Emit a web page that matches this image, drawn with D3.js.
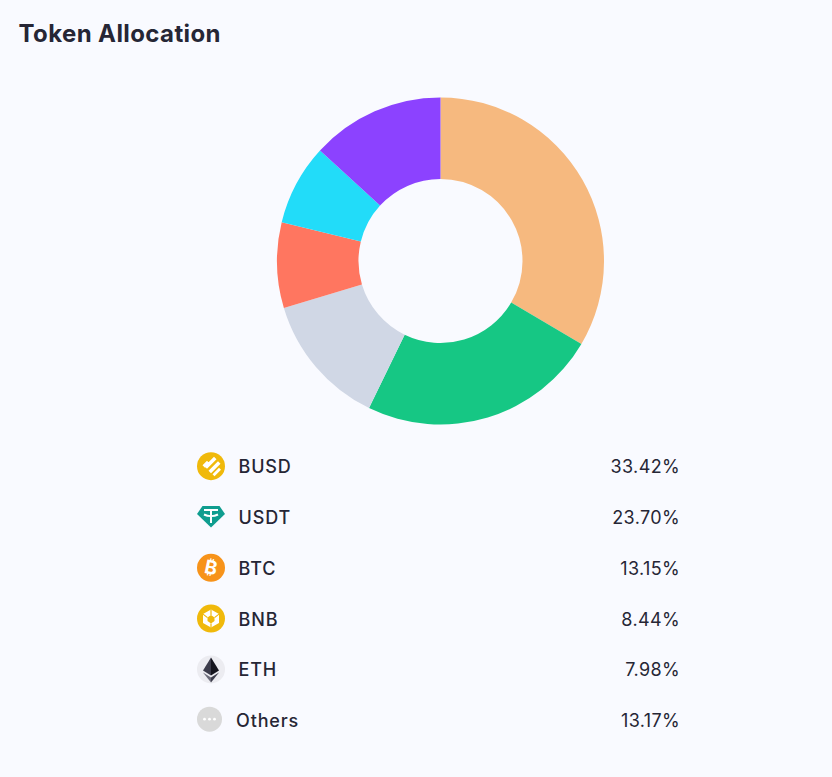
<!DOCTYPE html>
<html>
<head>
<meta charset="utf-8">
<script src="https://cdn.jsdelivr.net/npm/d3@7"></script>
<style>
  html, body { margin: 0; padding: 0; background: #f9faff; }
  text { font-family: Inter, sans-serif; fill: #262635; }
</style>
</head>
<body>
<svg id="chart" width="832" height="777"></svg>
<script>
const title = 'Token Allocation';
const tokens = ['BUSD', 'USDT', 'BTC', 'BNB', 'ETH', 'Others'];
const shares = [33.42, 23.70, 13.15, 8.44, 7.98, 13.17];
const sliceColors = ['#f6b97f', '#16c784', '#d0d7e5', '#ff7660', '#22dcf9', '#8c42ff'];

const svg = d3.select('#chart');

svg.append('text')
  .attr('x', 18.5).attr('y', 42)
  .attr('font-size', 24).attr('font-weight', 700)
  .attr('letter-spacing', 0.4)
  .text(title);

// donut
const pie = d3.pie().sort(null).value(d => d);
const arc = d3.arc().innerRadius(82).outerRadius(163.5);

svg.append('g')
  .attr('transform', 'translate(440.5,261)')
  .selectAll('path')
  .data(pie(shares))
  .join('path')
  .attr('d', arc)
  .attr('fill', (d, i) => sliceColors[i]);

// legend rows
const rowY = d3.scalePoint().domain(tokens).range([466.2, 720.2]);

const row = svg.selectAll('g.row')
  .data(tokens)
  .join('g')
  .attr('class', 'row')
  .attr('transform', d => `translate(0,${rowY(d)})`);

row.append('text')
  .attr('x', d => d === 'Others' ? 236 : 238.5)
  .attr('y', 7)
  .attr('font-size', 18).attr('font-weight', 500)
  .attr('letter-spacing', 0.85)
  .text(d => d);

row.append('text')
  .attr('x', 680.2).attr('y', 7)
  .attr('text-anchor', 'end')
  .attr('font-size', 18)
  .attr('letter-spacing', 0.4)
  .text((d, i) => shares[i].toFixed(2) + '%');

// token icons
const icon = row.append('g').attr('transform', 'translate(211,0)');

icon.filter(d => d === 'BUSD').call(g => {
  g.append('circle').attr('r', 14).attr('fill', '#f0b90b');
  g.append('path')
    .attr('d', 'M3,-9.5L5.5,-7L-4,2.5L-6.5,0ZM7,-5L9.5,-2.5L0,7L-2.5,4.5ZM-4,-5.5L-1.5,-3L-6,1.5L-8.5,-1ZM8,1.5L10,3.5L3.5,10L1.5,8Z')
    .attr('fill', '#fff');
});

icon.filter(d => d === 'USDT').call(g => {
  g.append('path')
    .attr('d', 'M-8.5,-11H8.5L14,-3L0,10.5L-14,-3Z')
    .attr('fill', '#0f9d8f');
  g.append('path')
    .attr('d', 'M-7,-7H7M0,-7V6M-7,-2.5C-3,-0.5 3,-0.5 7,-2.5')
    .attr('fill', 'none').attr('stroke', '#fff').attr('stroke-width', 2);
});

icon.filter(d => d === 'BTC').call(g => {
  g.append('circle').attr('r', 14).attr('fill', '#f7931a');
  g.append('text')
    .attr('y', 6.5).attr('text-anchor', 'middle')
    .attr('transform', 'rotate(12)')
    .attr('font-size', 19).attr('font-weight', 700)
    .style('fill', '#fff')
    .text('\u20bf');
});

icon.filter(d => d === 'BNB').call(g => {
  g.append('circle').attr('r', 14).attr('fill', '#f0b90b');
  g.append('path')
    .attr('d', 'M0,-9L8,-4.5V4.5L0,9L-8,4.5V-4.5ZM0,-3.5L-3.5,-1V2.5L0,5L3.5,2.5V-1Z')
    .attr('fill', '#fff').attr('fill-rule', 'evenodd');
  g.append('path')
    .attr('d', 'M0,-9V-3.5M-8,-4.5L-3.5,-1M8,-4.5L3.5,-1M0,5V9')
    .attr('stroke', '#f0b90b').attr('stroke-width', 1.2);
});

icon.filter(d => d === 'ETH').call(g => {
  g.append('circle').attr('r', 14).attr('fill', '#ececf1');
  g.append('path').attr('d', 'M0,-12L-8,1L0,6Z').attr('fill', '#3c3c4b');
  g.append('path').attr('d', 'M0,-12L8,1L0,6Z').attr('fill', '#15151f');
  g.append('path').attr('d', 'M-8,3L0,8V13Z').attr('fill', '#6a6a78');
  g.append('path').attr('d', 'M8,3L0,8V13Z').attr('fill', '#3c3c4b');
});

icon.filter(d => d === 'Others').call(g => {
  g.attr('transform', 'translate(209.5,-1)');
  g.append('circle').attr('r', 12.5).attr('fill', '#d9d9d9');
  g.selectAll('circle.dot')
    .data([-5, 0, 5])
    .join('circle')
    .attr('class', 'dot')
    .attr('cx', d => d)
    .attr('r', 1.4)
    .attr('fill', '#fff');
});
</script>
</body>
</html>
